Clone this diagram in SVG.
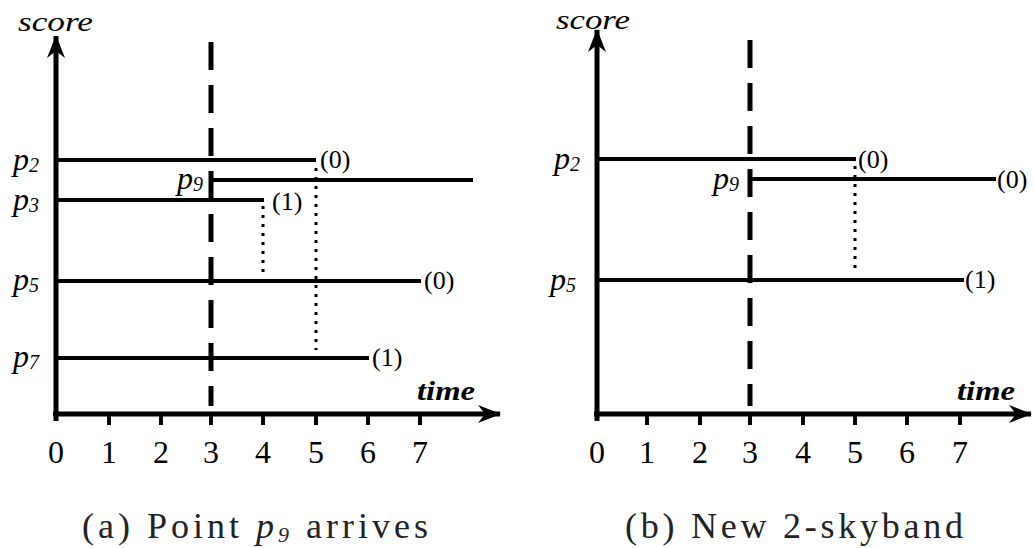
<svg xmlns="http://www.w3.org/2000/svg" width="1035" height="548" viewBox="0 0 1035 548" font-family="Liberation Serif, Times New Roman, serif">
<style>
.ax{stroke:#000;stroke-width:5;fill:none}
.ln{stroke:#000;stroke-width:4;fill:none}
.dash{stroke:#000;stroke-width:5;stroke-dasharray:28 15;fill:none}
.dot{stroke:#000;stroke-width:3;stroke-dasharray:3 6;fill:none}
.tick{stroke:#000;stroke-width:4}
.lbl{font-style:italic;font-size:32px;fill:#000}
.ax-t{font-style:italic;font-size:28px;fill:#000}
.num{font-size:32px;fill:#000;text-anchor:middle}
.cnt{font-size:26px;fill:#000}
.cap{font-size:36px;fill:#222}
</style>
<defs>
<marker id="arr" viewBox="-24 -10 26 20" refX="0" refY="0" markerWidth="26" markerHeight="20" markerUnits="userSpaceOnUse" orient="auto">
<path d="M1,0 L-22,-9 L-15,0 L-22,9 Z" fill="#000"/>
</marker>
</defs>
<rect width="1035" height="548" fill="#fff"/>

<!-- Panel (a) -->
<g id="axes-a">
<line class="ax" x1="56" y1="421" x2="56" y2="36" marker-end="url(#arr)"/>
<line class="ax" x1="53" y1="414" x2="500" y2="414" marker-end="url(#arr)"/>
<g class="tick">
<line x1="109" y1="414" x2="109" y2="425"/><line x1="161" y1="414" x2="161" y2="425"/>
<line x1="211" y1="414" x2="211" y2="425"/><line x1="263" y1="414" x2="263" y2="425"/>
<line x1="316" y1="414" x2="316" y2="425"/><line x1="368" y1="414" x2="368" y2="425"/>
<line x1="420" y1="414" x2="420" y2="425"/>
</g>
<text class="ax-t" x="18" y="31" textLength="75" lengthAdjust="spacingAndGlyphs">score</text>
<text class="ax-t" x="417" y="400" font-weight="bold" textLength="58" lengthAdjust="spacingAndGlyphs">time</text>
<g class="num">
<text x="56" y="463">0</text><text x="109" y="463">1</text><text x="161" y="463">2</text>
<text x="211" y="463">3</text><text x="263" y="463">4</text><text x="316" y="463">5</text>
<text x="368" y="463">6</text><text x="420" y="463">7</text>
</g>
</g>
<g id="connectors-a">
<line class="dash" x1="211" y1="42" x2="211" y2="406"/>
<line class="dot" x1="263" y1="206" x2="263" y2="274"/>
<line class="dot" x1="316" y1="168" x2="316" y2="350"/>
</g>
<g id="a-p2"><line class="ln" x1="56" y1="160" x2="316" y2="160"/>
<text class="lbl" x="13" y="170">p<tspan font-size="20" dy="2">2</tspan></text>
<text class="cnt" x="320" y="168">(0)</text></g>
<g id="a-p9"><line class="ln" x1="211" y1="180" x2="473" y2="180"/>
<text class="lbl" x="177" y="189">p<tspan font-size="20" dy="2">9</tspan></text></g>
<g id="a-p3"><line class="ln" x1="56" y1="200" x2="264" y2="200"/>
<text class="lbl" x="13" y="210">p<tspan font-size="20" dy="2">3</tspan></text>
<text class="cnt" x="272" y="210">(1)</text></g>
<g id="a-p5"><line class="ln" x1="56" y1="281" x2="421" y2="281"/>
<text class="lbl" x="13" y="290">p<tspan font-size="20" dy="2">5</tspan></text>
<text class="cnt" x="424" y="289">(0)</text></g>
<g id="a-p7"><line class="ln" x1="56" y1="358" x2="369" y2="358"/>
<text class="lbl" x="13" y="367">p<tspan font-size="20" dy="2">7</tspan></text>
<text class="cnt" x="372" y="366">(1)</text></g>
<text class="cap" x="82" y="538" textLength="346" lengthAdjust="spacing">(a) Point <tspan font-style="italic">p</tspan><tspan font-style="italic" font-size="22" dy="4">9</tspan><tspan dy="-4"> arrives</tspan></text>

<!-- Panel (b) -->
<g id="axes-b">
<line class="ax" x1="597" y1="421" x2="597" y2="30" marker-end="url(#arr)"/>
<line class="ax" x1="594" y1="414" x2="1031" y2="414" marker-end="url(#arr)"/>
<g class="tick">
<line x1="647" y1="414" x2="647" y2="425"/><line x1="700" y1="414" x2="700" y2="425"/>
<line x1="750" y1="414" x2="750" y2="425"/><line x1="803" y1="414" x2="803" y2="425"/>
<line x1="855" y1="414" x2="855" y2="425"/><line x1="907" y1="414" x2="907" y2="425"/>
<line x1="960" y1="414" x2="960" y2="425"/>
</g>
<text class="ax-t" x="556" y="29" textLength="74" lengthAdjust="spacingAndGlyphs">score</text>
<text class="ax-t" x="957" y="400" font-weight="bold" textLength="58" lengthAdjust="spacingAndGlyphs">time</text>
<g class="num">
<text x="597" y="463">0</text><text x="647" y="463">1</text><text x="700" y="463">2</text>
<text x="750" y="463">3</text><text x="803" y="463">4</text><text x="855" y="463">5</text>
<text x="907" y="463">6</text><text x="960" y="463">7</text>
</g>
</g>
<g id="connectors-b">
<line class="dash" x1="750" y1="40" x2="750" y2="406"/>
<line class="dot" x1="855" y1="166" x2="855" y2="270"/>
</g>
<g id="b-p2"><line class="ln" x1="597" y1="159" x2="856" y2="159"/>
<text class="lbl" x="554" y="169">p<tspan font-size="20" dy="2">2</tspan></text>
<text class="cnt" x="858" y="168">(0)</text></g>
<g id="b-p9"><line class="ln" x1="750" y1="179" x2="996" y2="179"/>
<text class="lbl" x="713" y="189">p<tspan font-size="20" dy="2">9</tspan></text>
<text class="cnt" x="997" y="188">(0)</text></g>
<g id="b-p5"><line class="ln" x1="597" y1="280" x2="964" y2="280"/>
<text class="lbl" x="550" y="290">p<tspan font-size="20" dy="2">5</tspan></text>
<text class="cnt" x="965" y="288">(1)</text></g>
<text class="cap" x="625" y="538" textLength="338" lengthAdjust="spacing">(b) New 2-skyband</text>
</svg>
